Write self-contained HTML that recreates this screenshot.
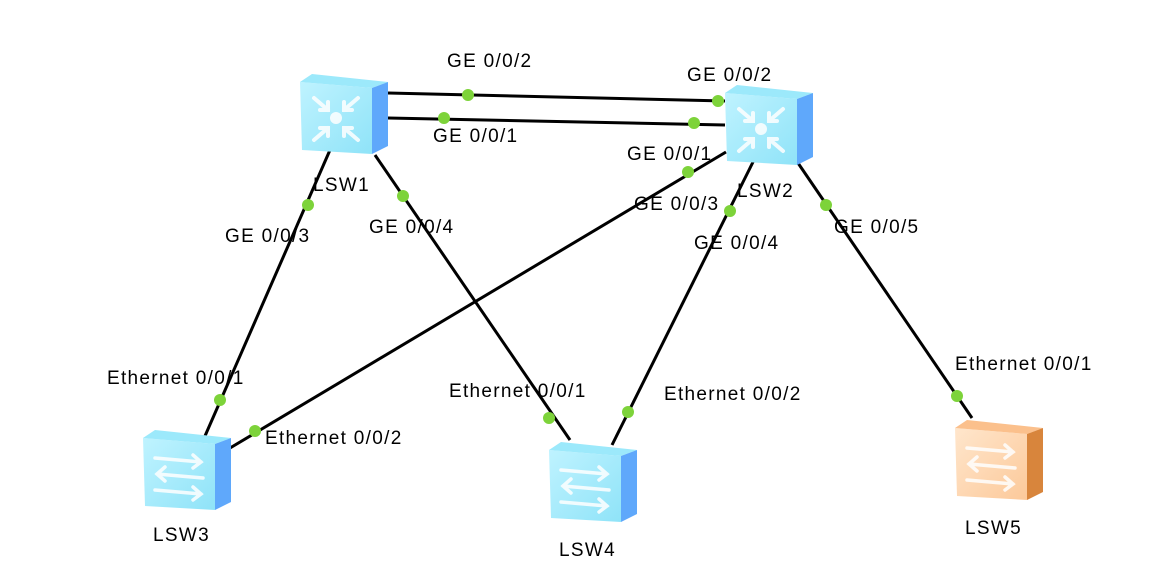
<!DOCTYPE html>
<html><head><meta charset="utf-8"><style>
html,body{margin:0;padding:0;background:#fff;}
svg{display:block}
text{font-family:"Liberation Sans",sans-serif;font-size:19px;letter-spacing:1.3px;fill:#000}
</style></head><body>
<svg width="1168" height="586" viewBox="0 0 1168 586" xmlns="http://www.w3.org/2000/svg">
<defs>
<linearGradient id="fb" x1="0" y1="0" x2="1" y2="1"><stop offset="0" stop-color="#bff3ff"/><stop offset="1" stop-color="#8fe3f8"/></linearGradient>
<linearGradient id="fo" x1="0" y1="0" x2="1" y2="1"><stop offset="0" stop-color="#ffe6cc"/><stop offset="1" stop-color="#fcc99a"/></linearGradient>
<g id="boxB">
<path d="M0,10 L72,16 L72,82 L2,78 Z" fill="url(#fb)"/>
<path d="M0,10 L12,2 L88,10 L72,16 Z" fill="#9ce9fb"/>
<path d="M72,16 L88,10 L88,74 L72,82 Z" fill="#5fa8fb"/>
</g>
<g id="boxO">
<path d="M0,10 L72,16 L72,82 L2,78 Z" fill="url(#fo)"/>
<path d="M0,10 L12,2 L88,10 L72,16 Z" fill="#fbc08c"/>
<path d="M72,16 L88,10 L88,74 L72,82 Z" fill="#d8853c"/>
</g>
<g id="core" fill="none" stroke="#fff" stroke-width="4" stroke-linecap="round" opacity="0.85">
<circle cx="36" cy="46" r="6" fill="#fff" stroke="none"/>
<path d="M14,26 L28,38 M28,30 L28,38 L20,38"/>
<path d="M58,26 L44,38 M44,30 L44,38 L52,38"/>
<path d="M14,68 L28,56 M28,64 L28,56 L20,56"/>
<path d="M58,68 L44,56 M44,64 L44,56 L52,56"/>
</g>
<g id="arr" fill="none" stroke="#fff" stroke-width="3.5" stroke-linecap="round" opacity="0.85">
<path d="M12,30 L58,34 M50,27 L58,34 L50,40"/>
<path d="M60,50 L14,46 M22,39 L14,46 L22,53"/>
<path d="M12,62 L58,66 M50,59 L58,66 L50,72"/>
</g>
</defs>

<g stroke="#000" stroke-width="3">
<line x1="388" y1="93" x2="725" y2="101"/>
<line x1="388" y1="118" x2="725" y2="125"/>
<line x1="330" y1="150" x2="205" y2="436"/>
<line x1="375" y1="155" x2="570" y2="440"/>
<line x1="726" y1="152" x2="230" y2="448"/>
<line x1="755" y1="158" x2="612" y2="445"/>
<line x1="798" y1="163" x2="972" y2="418"/>
</g>

<g transform="translate(300,72)"><use href="#boxB"/><use href="#core"/></g>
<g transform="translate(725,83)"><use href="#boxB"/><use href="#core"/></g>
<g transform="translate(143,428)"><use href="#boxB"/><use href="#arr"/></g>
<g transform="translate(549,440)"><use href="#boxB"/><use href="#arr"/></g>
<g transform="translate(955,418)"><use href="#boxO"/><use href="#arr"/></g>

<g fill="#7dd33a">
<circle cx="468" cy="95" r="6"/><circle cx="718" cy="101" r="6"/>
<circle cx="444" cy="118" r="6"/><circle cx="694" cy="123" r="6"/>
<circle cx="308" cy="205" r="6"/><circle cx="220" cy="400" r="6"/>
<circle cx="403" cy="196" r="6"/><circle cx="549" cy="418" r="6"/>
<circle cx="688" cy="172" r="6"/><circle cx="255" cy="431" r="6"/>
<circle cx="730" cy="211" r="6"/><circle cx="628" cy="412" r="6"/>
<circle cx="826" cy="205" r="6"/><circle cx="957" cy="396" r="6"/>
</g>

<text x="447" y="67">GE 0/0/2</text>
<text x="687" y="81">GE 0/0/2</text>
<text x="433" y="142">GE 0/0/1</text>
<text x="627" y="160">GE 0/0/1</text>
<text x="313" y="191">LSW1</text>
<text x="737" y="197">LSW2</text>
<text x="634" y="210">GE 0/0/3</text>
<text x="225" y="242">GE 0/0/3</text>
<text x="369" y="233">GE 0/0/4</text>
<text x="694" y="249">GE 0/0/4</text>
<text x="834" y="233">GE 0/0/5</text>
<text x="107" y="384">Ethernet 0/0/1</text>
<text x="449" y="397">Ethernet 0/0/1</text>
<text x="664" y="400">Ethernet 0/0/2</text>
<text x="955" y="370">Ethernet 0/0/1</text>
<text x="265" y="444">Ethernet 0/0/2</text>
<text x="153" y="541">LSW3</text>
<text x="559" y="556">LSW4</text>
<text x="965" y="534">LSW5</text>
</svg>
</body></html>
